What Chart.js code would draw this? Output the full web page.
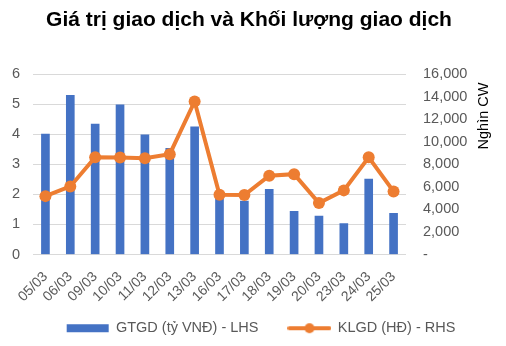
<!DOCTYPE html>
<html>
<head>
<meta charset="utf-8">
<script src="https://cdn.jsdelivr.net/npm/chart.js@4"></script>
<style>
  html, body { margin: 0; padding: 0; background: #fff; }
  #wrap { width: 506px; height: 346px; }
</style>
</head>
<body>
<div id="wrap"><canvas id="chart" width="506" height="346"></canvas></div>
<script>
const dates = ["05/03", "06/03", "09/03", "10/03", "11/03", "12/03", "13/03", "16/03",
  "17/03", "18/03", "19/03", "20/03", "23/03", "24/03", "25/03"];
// giá trị giao dịch, tỷ VNĐ (trục trái)
const gtgd = [4.01, 5.3, 4.34, 4.98, 3.98, 3.53, 4.25, 1.95, 1.78, 2.17, 1.44, 1.28, 1.03, 2.51, 1.37];
// khối lượng giao dịch, nghìn CW (trục phải)
const klgd = [5180, 6040, 8630, 8600, 8540, 8900, 13580, 5300, 5270, 6990, 7130, 4560, 5690, 8630, 5600];

const BLUE = "#4472C4";
const ORANGE = "#ED7D31";
const TICK = "#595959";
const FONT = "'Liberation Sans', Arial, sans-serif";
const FS = 14.5;

function legendIcon(kind) {
  const c = document.createElement("canvas");
  c.width = 44; c.height = 14;
  const g = c.getContext("2d");
  if (kind === "bar") {
    g.fillStyle = BLUE;
    g.fillRect(1, 3, 42, 8);
  } else {
    g.strokeStyle = ORANGE;
    g.lineWidth = 4;
    g.lineCap = "round";
    g.beginPath(); g.moveTo(2, 7); g.lineTo(42, 7); g.stroke();
    g.fillStyle = ORANGE;
    g.beginPath(); g.arc(22, 7, 5, 0, Math.PI * 2); g.fill();
  }
  return c;
}

// nhãn trục phải viết dọc từ dưới lên
const rightTitle = {
  id: "rightTitle",
  afterDraw(chart) {
    const { ctx } = chart;
    ctx.save();
    ctx.translate(484, 116);
    ctx.rotate(-Math.PI / 2);
    ctx.font = FS + "px " + FONT;
    ctx.fillStyle = "#000";
    ctx.textAlign = "center";
    ctx.textBaseline = "middle";
    ctx.fillText("Nghìn CW", 0, 0);
    ctx.restore();
  }
};

// đặt chú thích sát dưới nhãn ngày
const legendPlace = {
  id: "legendPlace",
  afterLayout(chart) {
    const l = chart.legend;
    const dy = 291 - l.top;
    l.top += dy; l.bottom += dy;
    l.left += 12; l.right += 12;
  }
};

new Chart(document.getElementById("chart"), {
  data: {
    labels: dates,
    datasets: [
      { type: "bar", label: "GTGD (tỷ VNĐ) - LHS", data: gtgd, yAxisID: "y",
        backgroundColor: BLUE, barThickness: 8, order: 2 },
      { type: "line", label: "KLGD (HĐ) - RHS", data: klgd, yAxisID: "y1",
        borderColor: ORANGE, backgroundColor: ORANGE, borderWidth: 4,
        pointRadius: 6, pointHoverRadius: 6, pointBackgroundColor: ORANGE,
        pointBorderWidth: 0, tension: 0, order: 1 },
    ],
  },
  options: {
    responsive: false,
    animation: false,
    layout: { padding: { left: 0, right: 8, top: 0, bottom: -16 } },
    plugins: {
      tooltip: { enabled: false },
      title: {
        display: true,
        text: "Giá trị giao dịch và Khối lượng giao dịch",
        color: "#000",
        font: { family: FONT, size: 21, weight: "bold" },
        padding: { top: 8, bottom: 41 },
      },
      legend: {
        position: "bottom",
        labels: {
          usePointStyle: true,
          pointStyleWidth: 42,
          boxHeight: 13,
          padding: 30,
          color: TICK,
          font: { family: FONT, size: FS },
          generateLabels: (chart) => chart.data.datasets.map((ds, i) => ({
            text: ds.label,
            datasetIndex: i,
            pointStyle: legendIcon(i === 0 ? "bar" : "line"),
            fillStyle: "transparent",
            strokeStyle: "transparent",
            lineWidth: 0,
            fontColor: TICK,
            hidden: false,
          })),
        },
      },
    },
    scales: {
      x: {
        grid: { display: false },
        border: { display: false },
        ticks: { color: TICK, font: { family: FONT, size: 14 }, minRotation: 45, maxRotation: 45,
          autoSkip: false, padding: 6 },
        afterFit: (s) => { s.height = 53; },
      },
      y: {
        position: "left",
        min: 0, max: 6,
        ticks: { stepSize: 1, color: TICK, font: { family: FONT, size: FS }, padding: 13 },
        grid: { color: "#d9d9d9", lineWidth: 1, drawTicks: false },
        border: { display: false },
        afterFit: (s) => { s.width = 33; },
      },
      y1: {
        position: "right",
        min: 0, max: 16000,
        ticks: {
          stepSize: 2000, color: TICK, font: { family: FONT, size: FS }, padding: 17,
          callback: (v) => (v === 0 ? "-" : v.toLocaleString("en-US")),
        },
        grid: { display: false, drawTicks: false },
        border: { display: false },
        afterFit: (s) => { s.width = 92; },
      },
    },
  },
  plugins: [rightTitle, legendPlace],
});
</script>
</body>
</html>
